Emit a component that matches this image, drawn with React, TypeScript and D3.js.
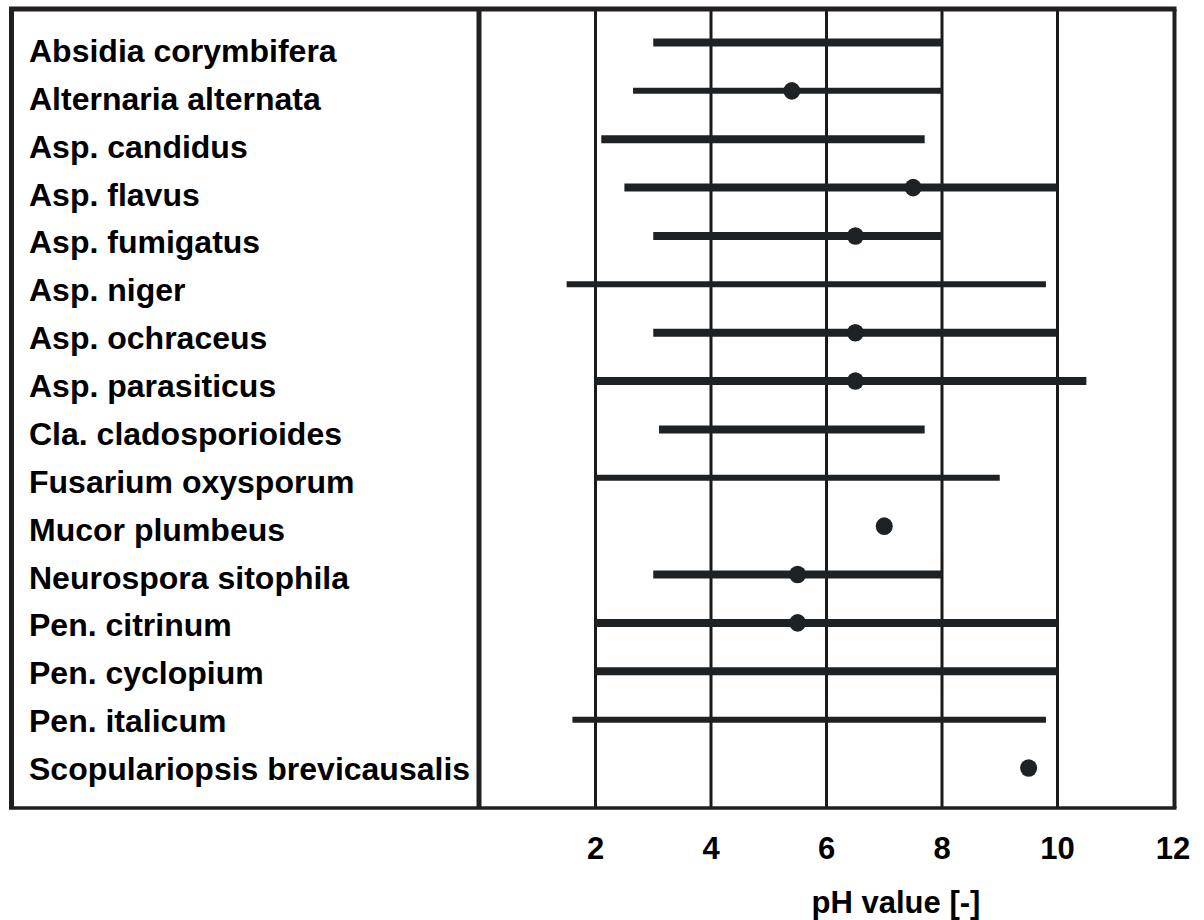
import React, { useEffect, useRef } from "react";
import * as d3 from "d3";

// species (rows, top to bottom)
const species = [
  "Absidia corymbifera",
  "Alternaria alternata",
  "Asp. candidus",
  "Asp. flavus",
  "Asp. fumigatus",
  "Asp. niger",
  "Asp. ochraceus",
  "Asp. parasiticus",
  "Cla. cladosporioides",
  "Fusarium oxysporum",
  "Mucor plumbeus",
  "Neurospora sitophila",
  "Pen. citrinum",
  "Pen. cyclopium",
  "Pen. italicum",
  "Scopulariopsis brevicausalis",
];

// growth range (min / max pH), null = no range drawn
const minPH = [3, 2.65, 2.1, 2.5, 3, 1.5, 3, 2, 3.1, 2, null, 3, 2, 2, 1.6, null];
const maxPH = [8, 8, 7.7, 10, 8, 9.8, 10, 10.5, 7.7, 9, null, 8, 10, 10, 9.8, null];

// optimum pH (dot), null = none
const optimumPH = [null, 5.4, null, 7.5, 6.5, null, 6.5, 6.5, null, null, 7, 5.5, 5.5, null, null, 9.5];

// range line group (1 = heavy line, 2 = light line)
const rangeGroup = [1, 2, 1, 1, 1, 2, 1, 1, 1, 2, 1, 1, 1, 1, 2, 1];

const xTicks = [2, 4, 6, 8, 10, 12];
const xTitle = "pH value [-]";

const W = 1204;
const H = 920;

export default function App() {
  const ref = useRef<SVGSVGElement | null>(null);

  useEffect(() => {
    const svg = d3.select(ref.current);
    svg.selectAll("*").remove();

    const box = { left: 11.5, right: 1174.5, top: 9, bottom: 808 };
    const divider = 479;
    const ink = "#231f20";
    const markInk = "#1f2224";
    const font = "'Liberation Sans', Arial, Helvetica, sans-serif";

    const x = d3.scaleLinear().domain([0, 12]).range([480, 1173]);
    const y = d3.scalePoint<string>().domain(species).range([42.5, 768]);
    const yLabel = d3.scalePoint<string>().domain(species).range([51, 769]);
    const weight: Record<number, number> = { 1: 8, 2: 6 };

    svg.append("rect").attr("width", W).attr("height", H).attr("fill", "#fff");

    // vertical grid lines
    svg.append("g")
      .selectAll("line")
      .data(xTicks.filter((t) => t < 12))
      .enter()
      .append("line")
      .attr("x1", (d) => x(d))
      .attr("x2", (d) => x(d))
      .attr("y1", box.top)
      .attr("y2", box.bottom)
      .attr("stroke", "#1a1a1a")
      .attr("stroke-width", 3);

    const rows = species.map((name, i) => ({
      name,
      lo: minPH[i],
      hi: maxPH[i],
      opt: optimumPH[i],
      group: rangeGroup[i],
    }));

    // ranges
    svg.append("g")
      .selectAll("line")
      .data(rows.filter((d) => d.lo !== null && d.hi !== null))
      .enter()
      .append("line")
      .attr("x1", (d) => x(d.lo as number))
      .attr("x2", (d) => x(d.hi as number))
      .attr("y1", (d) => y(d.name) as number)
      .attr("y2", (d) => y(d.name) as number)
      .attr("stroke", markInk)
      .attr("stroke-width", (d) => weight[d.group]);

    // optimum dots
    svg.append("g")
      .selectAll("ellipse")
      .data(rows.filter((d) => d.opt !== null))
      .enter()
      .append("ellipse")
      .attr("cx", (d) => x(d.opt as number))
      .attr("cy", (d) => y(d.name) as number)
      .attr("rx", 8.5)
      .attr("ry", 8.8)
      .attr("fill", markInk);

    // frame
    const frame = svg.append("g").attr("stroke", ink);
    frame.append("line")
      .attr("x1", box.left - 2.5).attr("x2", box.right + 2)
      .attr("y1", box.top).attr("y2", box.top)
      .attr("stroke-width", 5);
    frame.append("line")
      .attr("x1", box.left - 2.5).attr("x2", box.right + 2)
      .attr("y1", box.bottom).attr("y2", box.bottom)
      .attr("stroke-width", 3.5);
    frame.append("line")
      .attr("x1", box.left).attr("x2", box.left)
      .attr("y1", box.top).attr("y2", box.bottom)
      .attr("stroke-width", 5);
    frame.append("line")
      .attr("x1", box.right).attr("x2", box.right)
      .attr("y1", box.top).attr("y2", box.bottom)
      .attr("stroke-width", 4);
    frame.append("line")
      .attr("x1", divider).attr("x2", divider)
      .attr("y1", box.top).attr("y2", box.bottom)
      .attr("stroke-width", 5);

    // species labels
    svg.append("g")
      .selectAll("text")
      .data(species)
      .enter()
      .append("text")
      .attr("x", 29)
      .attr("y", (d) => yLabel(d) as number)
      .attr("dominant-baseline", "central")
      .style("font-family", font)
      .style("font-weight", "bold")
      .style("font-size", "32px")
      .attr("fill", "#000")
      .text((d) => d);

    // tick labels
    svg.append("g")
      .selectAll("text")
      .data(xTicks)
      .enter()
      .append("text")
      .attr("x", (d) => x(d))
      .attr("y", 859)
      .attr("text-anchor", "middle")
      .style("font-family", font)
      .style("font-weight", "bold")
      .style("font-size", "31px")
      .attr("fill", "#000")
      .text((d) => d);

    // axis title
    svg.append("text")
      .attr("x", 896)
      .attr("y", 913)
      .attr("text-anchor", "middle")
      .style("font-family", font)
      .style("font-weight", "bold")
      .style("font-size", "31px")
      .attr("fill", "#000")
      .text(xTitle);
  }, []);

  return (
    <svg
      ref={ref}
      width={W}
      height={H}
      style={{ position: "absolute", left: 0, top: 0, display: "block" }}
    />
  );
}
